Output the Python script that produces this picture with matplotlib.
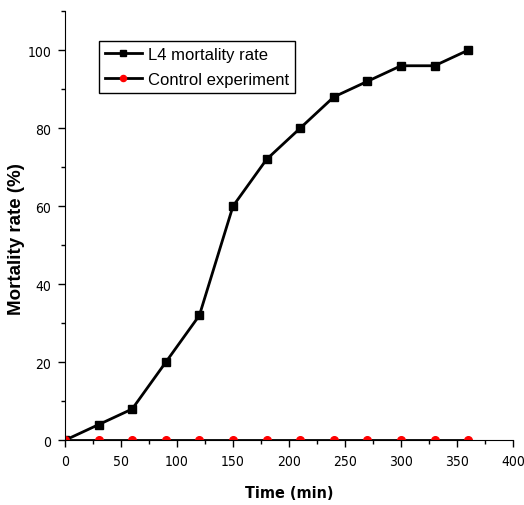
import matplotlib.pyplot as plt
from matplotlib.ticker import MultipleLocator

# Data
time_min = [0, 30, 60, 90, 120, 150, 180, 210, 240, 270, 300, 330, 360]
l4_mortality = [0, 4, 8, 20, 32, 60, 72, 80, 88, 92, 96, 96, 100]
control = [0, 0, 0, 0, 0, 0, 0, 0, 0, 0, 0, 0, 0]

label_font = ['Liberation Sans', 'DejaVu Sans']

fig = plt.figure(figsize=(5.24, 5.06), dpi=100)
ax = fig.add_axes([0.124, 0.128, 0.855, 0.848])

ax.plot(time_min, l4_mortality, color='black', lw=2, marker='s', ms=6,
        label='L4 mortality rate')
ax.plot(time_min, control, color='black', lw=2, marker='o', ms=5.5,
        mfc='red', mec='red', label='Control experiment')

ax.set_xlim(0, 400)
ax.set_ylim(0, 110)
ax.xaxis.set_major_locator(MultipleLocator(50))
ax.xaxis.set_minor_locator(MultipleLocator(25))
ax.yaxis.set_minor_locator(MultipleLocator(10))
ax.set_yticks([0, 20, 40, 60, 80, 100])

for s in ['top', 'right']:
    ax.spines[s].set_visible(False)

ax.tick_params(which='major', direction='out', length=5, width=1, labelsize=10, pad=5)
ax.tick_params(which='minor', direction='out', length=3, width=1)
for lab in ax.get_xticklabels() + ax.get_yticklabels():
    lab.set_family('DejaVu Sans')
    lab.set_stretch('condensed')

ax.set_xlabel('Time (min)', family='DejaVu Sans', stretch='condensed',
              fontweight='bold', fontsize=11.5)
ax.xaxis.set_label_coords(0.5, -0.105)
ax.set_ylabel('Mortality rate (%)', family=label_font, fontweight='bold', fontsize=13.5)
ax.yaxis.set_label_coords(-0.09, 0.47)

leg = ax.legend(loc='upper left', bbox_to_anchor=(0.076, 0.93), fancybox=False,
                edgecolor='black', framealpha=1, prop={'family': label_font, 'size': 12},
                handlelength=2.2, handletextpad=0.4, borderpad=0.35, labelspacing=0.6,
                markerscale=0.8, borderaxespad=0)
leg.get_frame().set_linewidth(1.0)

fig.savefig('out.png', dpi=100)
